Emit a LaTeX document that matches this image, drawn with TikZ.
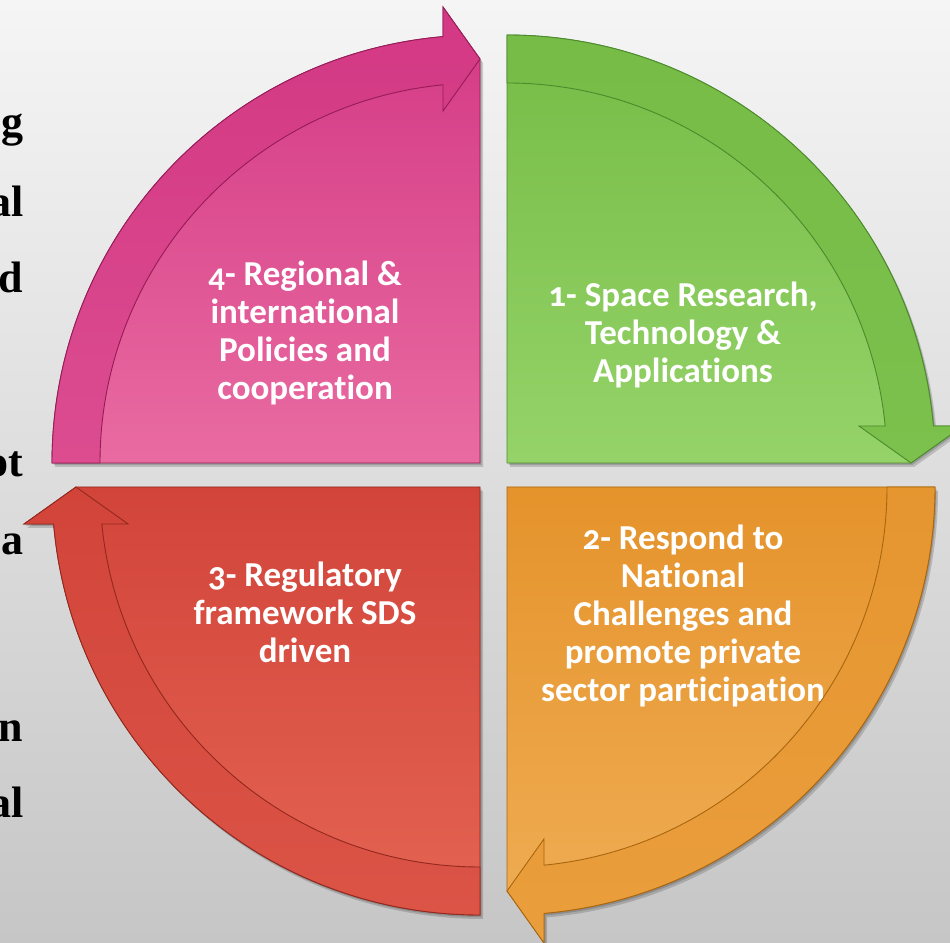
\documentclass[tikz,border=0pt]{standalone}
\usepackage{fontspec}
\setmainfont{Carlito}[RawFeature=-liga]
\newfontfamily\wedgefont[Numbers=OldStyle,RawFeature=-liga]{Carlito}
\newfontfamily\sidefont{Liberation Serif}
\newcommand\lowfour{\raisebox{-0.14em}{\fontsize{33}{36}\selectfont\rmfamily\bfseries 4}}
\definecolor{bgtop}{HTML}{F5F5F5}
\definecolor{bgbot}{HTML}{C6C6C6}
\definecolor{gtop}{HTML}{76BC46}
\definecolor{gbot}{HTML}{95D369}
\definecolor{gdark}{HTML}{4C8A2C}
\definecolor{otop}{HTML}{E5932B}
\definecolor{obot}{HTML}{F0AE56}
\definecolor{odark}{HTML}{A9660F}
\definecolor{rtop}{HTML}{D2443A}
\definecolor{rbot}{HTML}{E46452}
\definecolor{rdark}{HTML}{93281E}
\definecolor{ptop}{HTML}{D33884}
\definecolor{pbot}{HTML}{E96BA1}
\definecolor{pdark}{HTML}{951C57}
\begin{document}
\begin{tikzpicture}[x=1pt,y=1pt,
  % whole quarter: sector plus the arrow head at its end (rotation #1)
  wedgebody/.style={insert path={(0,0) -- ({#1+90}:428pt)
     arc[start angle={#1+90}, end angle={#1+4.96}, radius=428pt]
     -- ({#1+4.64}:457.5pt) -- ({#1}:404pt) -- cycle}},
  % curved arrow running along the rim of the quarter
  wedgeband/.style={insert path={({#1+90}:428pt)
     arc[start angle={#1+90}, end angle={#1+4.96}, radius=428pt]
     -- ({#1+4.64}:457.5pt) -- ({#1}:404pt) -- ({#1+6.0}:353.9pt)
     -- ({#1+5.59}:380pt)
     arc[start angle={#1+5.59}, end angle={#1+90}, radius=380pt] -- cycle}},
  shadowfill/.style={fill=black, opacity=0.16},
  wedgetext/.style={text=white, inner sep=0pt, anchor=base, align=center,
     font=\wedgefont\bfseries\fontsize{35}{38}\selectfont},
  sidetext/.style={text=black, inner sep=0pt, anchor=base east,
     font=\sidefont\bfseries\fontsize{44}{54}\selectfont},
]
\useasboundingbox (0,0) rectangle (950,942);
\clip (0,0) rectangle (950,942);
\shade[top color=bgtop, bottom color=bgbot] (0,0) rectangle (950,942);

% soft shadows
\foreach \cx/\cy/\a in {507/479/0, 507/455/-90, 480/455/-180, 480/479/90}{
  \begin{scope}[shift={(\cx+3,\cy-4)}]
    \path[shadowfill, wedgebody=\a];
  \end{scope}
  \begin{scope}[shift={(\cx+1.5,\cy-2)}]
    \path[shadowfill, wedgebody=\a];
  \end{scope}
}

% quarter bodies
\begin{scope}[shift={(507,479)}]
  \path[top color=gtop, bottom color=gbot, draw=gdark, line width=0.8pt, wedgebody=0];
\end{scope}
\begin{scope}[shift={(507,455)}]
  \path[top color=otop, bottom color=obot, draw=odark, line width=0.8pt, wedgebody=-90];
\end{scope}
\begin{scope}[shift={(480,455)}]
  \path[top color=rtop, bottom color=rbot, draw=rdark, line width=0.8pt, wedgebody=-180];
\end{scope}
\begin{scope}[shift={(480,479)}]
  \path[top color=ptop, bottom color=pbot, draw=pdark, line width=0.8pt, wedgebody=90];
\end{scope}

% labels (anchored on the baseline of their last line)
\node[wedgetext] (t1) at (683,559) {1- Space Research,\\Technology \&\\Applications};
\node[wedgetext] (t2) at (683,240) {2- Respond to\\National\\Challenges and\\promote private\\sector participation};
\node[wedgetext] (t3) at (305,279) {3- Regulatory\\framework SDS\\driven};
\node[wedgetext] (t4) at (305,542) {\lowfour- Regional \&\\international\\Policies and\\cooperation};

% rim arrows
\begin{scope}[shift={(507,479)}]
  \path[top color=gtop, bottom color=gtop!80!gbot, draw=gdark, line width=0.9pt, wedgeband=0];
\end{scope}
\begin{scope}[shift={(507,455)}]
  \path[top color=otop!90!obot, bottom color=otop!60!obot, draw=odark, line width=0.9pt, wedgeband=-90];
\end{scope}
\begin{scope}[shift={(480,455)}]
  \path[top color=rtop, bottom color=rtop!50!rbot, draw=rdark, line width=0.9pt, wedgeband=-180];
\end{scope}
\begin{scope}[shift={(480,479)}]
  \path[top color=ptop, bottom color=ptop!60!pbot, draw=pdark, line width=0.9pt, wedgeband=90];
\end{scope}

% line ends of the text beside the circle
\foreach \t/\yy [count=\i] in {g/805, al/725, d/649, ot/465, a/387, n/200, al/124}
  \node[sidetext] (s\i) at (23.5,\yy) {\t};
\end{tikzpicture}
\end{document}
